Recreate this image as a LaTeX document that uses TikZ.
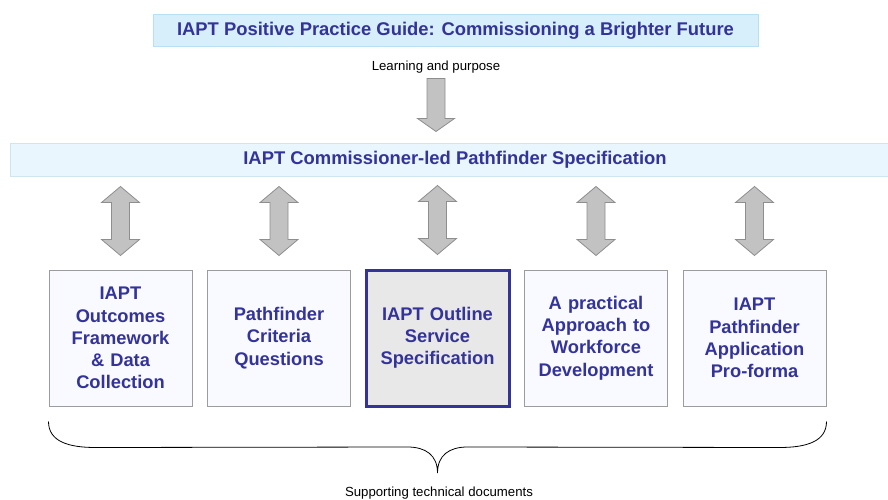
\documentclass[tikz,border=0pt]{standalone}
\usepackage{fontspec}
\setmainfont{Liberation Sans}
\usetikzlibrary{calc}

\definecolor{navy}{HTML}{333399}
\definecolor{skyfill}{HTML}{D7EFFB}
\definecolor{skyline}{HTML}{B8DFF2}
\definecolor{bandfill}{HTML}{E9F6FD}
\definecolor{bandline}{HTML}{CDE6F0}
\definecolor{boxfill}{HTML}{F9FAFF}
\definecolor{boxline}{HTML}{9C9C9C}
\definecolor{arrowfill}{HTML}{C2C2C2}
\definecolor{arrowline}{HTML}{8E8E8E}

\tikzset{
  banner/.style={draw=skyline, fill=skyfill, line width=1pt, inner sep=0pt,
    font=\fontsize{18.4}{21}\selectfont\bfseries, text=navy},
  docbox/.style={draw=boxline, fill=boxfill, line width=1pt, inner sep=0pt,
    minimum width=143pt, minimum height=136pt, align=center, text width=138pt,
    font=\fontsize{18.3}{22.2}\selectfont\bfseries, text=navy},
  keybox/.style={docbox, draw=navy, fill=black!9, line width=3pt},
  blockarrow/.style={draw=arrowline, fill=arrowfill, line width=0.8pt},
  caption/.style={font=\fontsize{13.2}{15}\selectfont, inner sep=0pt}
}

\begin{document}
\begin{tikzpicture}[x=1pt, y=-1pt]
  \useasboundingbox (0,0) rectangle (888,500);

  % guide and specification
  \node[banner, minimum width=605pt, minimum height=32pt] (guide) at (455.5,31) {IAPT Positive Practice Guide: Commissioning a Brighter Future};
  \node[caption] (learn) at (436,67) {Learning and purpose};
  \node[banner, draw=bandline, fill=bandfill, minimum width=890pt, minimum height=33pt] (band) at (455,159.5) {IAPT Commissioner-led Pathfinder Specification};

  \coordinate (down) at ([yshift=11pt]learn.south |- band.north);
  \draw[blockarrow] (down) -- ++(18.5,-13) -- ++(-9.5,0) -- ++(0,-40) -- ++(-18,0)
    -- ++(0,40) -- ++(-9.5,0) -- cycle;

  % supporting documents
  \node[docbox] (b1) at (120.5,338) {IAPT\\Outcomes\\Framework\\\& Data\\Collection};
  \node[docbox] (b2) at (279,338) {Pathfinder\\Criteria\\Questions};
  \node[keybox] (b3) at (437.5,338) {IAPT Outline\\Service\\Specification};
  \node[docbox] (b4) at (596,338) {A practical\\Approach to\\Workforce\\Development};
  \node[docbox] (b5) at (754.5,338) {IAPT\\Pathfinder\\Application\\Pro-forma};

  \foreach \b in {b1,b2,b3,b4,b5}
    \draw[blockarrow] ([yshift=14pt]\b.north) -- ++(19,-16) -- ++(-10,0) -- ++(0,-37)
      -- ++(10,0) -- ++(-19,-16) -- ++(-19,16) -- ++(10,0) -- ++(0,37) -- ++(-10,0) -- cycle;

  % brace
  \coordinate (bl) at ([yshift=-15pt]b1.south west);
  \coordinate (br) at ([yshift=-15pt]b5.south east);
  \coordinate (tip) at (437.5,473);
  \draw[line width=0.8pt] (bl) .. controls ($(bl)+(0,20)$) and ($(bl)+(20,26)$) .. ($(bl)+(47,26)$)
    -- ($(tip)+(-30,-26)$) .. controls ($(tip)+(-12,-26)$) and ($(tip)+(0,-18)$) .. (tip)
    .. controls ($(tip)+(0,-18)$) and ($(tip)+(12,-26)$) .. ($(tip)+(30,-26)$)
    -- ($(br)+(-47,26)$) .. controls ($(br)+(-20,26)$) and ($(br)+(0,20)$) .. (br);
  \node[caption] (support) at (439,493) {Supporting technical documents};
\end{tikzpicture}
\end{document}
